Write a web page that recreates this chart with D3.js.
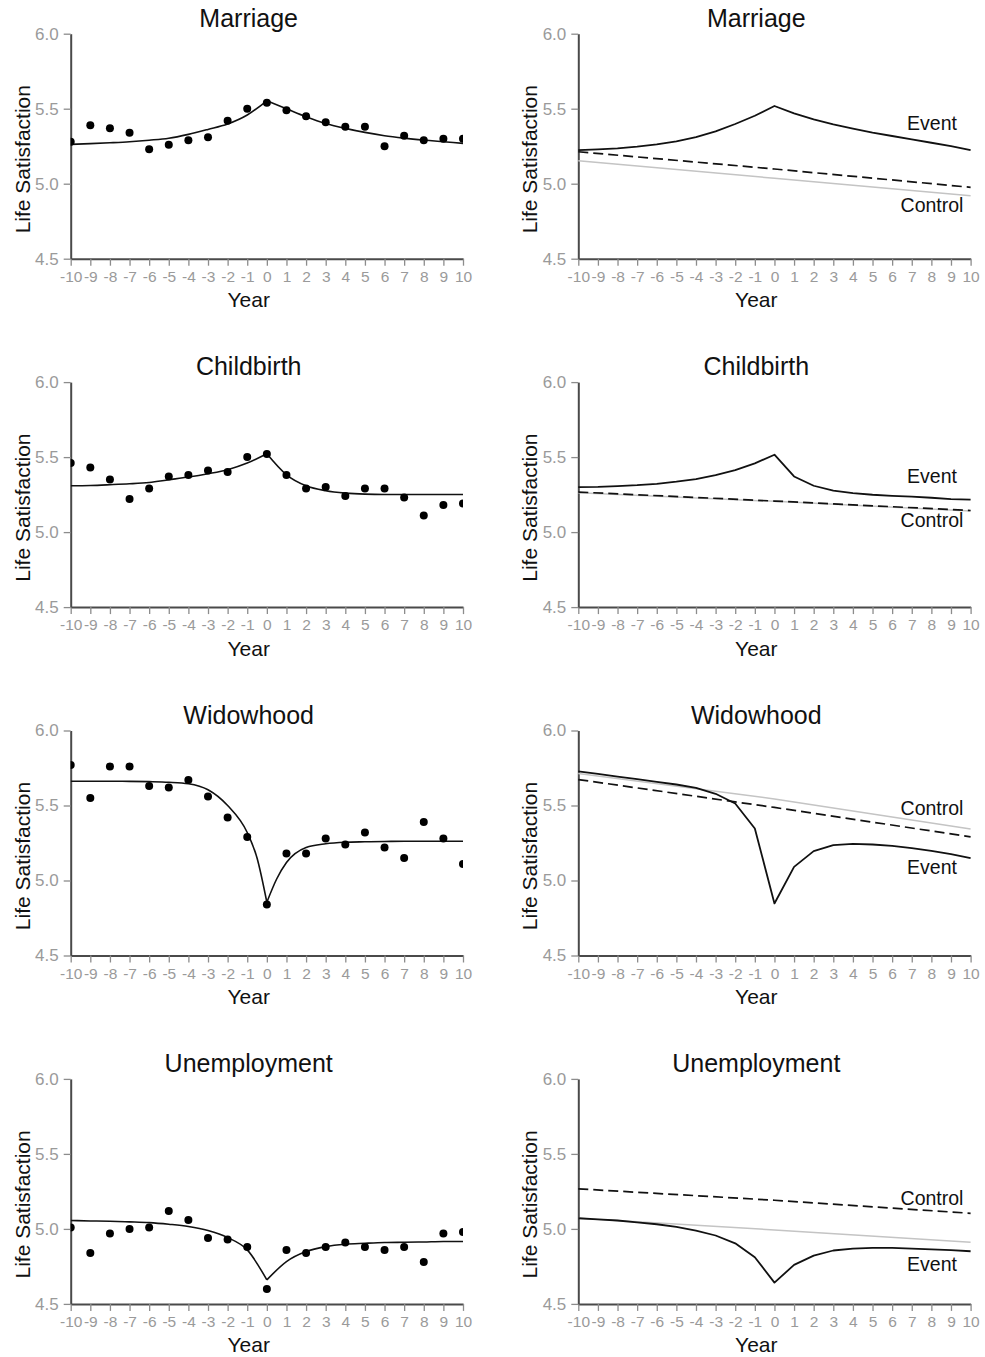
<!DOCTYPE html>
<html>
<head>
<meta charset="utf-8">
<script src="https://cdn.jsdelivr.net/npm/d3@7"></script>
<style>
  body { margin: 0; background: #fff; }
  svg text { font-family: "Liberation Sans", Arial, sans-serif; }
</style>
</head>
<body>
<div class="display"></div>
<script>
// Life satisfaction around major life events: raw means + fitted curve (left),
// event group vs control groups (right)

const WIDTH = 985;
const HEIGHT = 1357;

const COL_X = [70.7, 578.3]; // x of the y-axis for left / right column
const PLOT_W = 392.3;
const PLOT_H = 225;
const ROW_TOP = 33.7;
const ROW_STEP = 348.4;

const YEARS = d3.range(-10, 11);
const Y_TICKS = [4.5, 5.0, 5.5, 6.0];
const EVENTS = ['Marriage', 'Childbirth', 'Widowhood', 'Unemployment'];

// Left column: yearly means (dots)
const marriageDots = [5.28, 5.39, 5.37, 5.34, 5.23, 5.26, 5.29, 5.31, 5.42, 5.50, 5.54, 5.49, 5.45, 5.41, 5.38, 5.38, 5.25, 5.32, 5.29, 5.30, 5.30];
const childbirthDots = [5.46, 5.43, 5.35, 5.22, 5.29, 5.37, 5.38, 5.41, 5.40, 5.50, 5.52, 5.38, 5.29, 5.30, 5.24, 5.29, 5.29, 5.23, 5.11, 5.18, 5.19];
const widowhoodDots = [5.77, 5.55, 5.76, 5.76, 5.63, 5.62, 5.67, 5.56, 5.42, 5.29, 4.84, 5.18, 5.18, 5.28, 5.24, 5.32, 5.22, 5.15, 5.39, 5.28, 5.11];
const unemploymentDots = [5.01, 4.84, 4.97, 5.00, 5.01, 5.12, 5.06, 4.94, 4.93, 4.88, 4.60, 4.86, 4.84, 4.88, 4.91, 4.88, 4.86, 4.88, 4.78, 4.97, 4.98];

// Left column: fitted curves [year, value]
const marriageFit = [[-10, 5.262], [-9, 5.267], [-8, 5.273], [-7, 5.28], [-6, 5.29], [-5, 5.303], [-4, 5.329], [-3, 5.362], [-2, 5.398], [-1, 5.458], [0, 5.553],
  [1, 5.50], [2, 5.447], [3, 5.402], [4, 5.369], [5, 5.342], [6, 5.32], [7, 5.304], [8, 5.291], [9, 5.28], [10, 5.269]];
const childbirthFit = [[-10, 5.309], [-9, 5.311], [-8, 5.316], [-7, 5.322], [-6, 5.331], [-5, 5.349], [-4, 5.367], [-3, 5.389], [-2, 5.416], [-1, 5.46], [0, 5.522],
  [1, 5.382], [2, 5.309], [3, 5.276], [4, 5.26], [5, 5.253], [6, 5.251], [7, 5.251], [8, 5.251], [9, 5.251], [10, 5.251]];
const widowhoodFit = [[-10, 5.662], [-9, 5.662], [-8, 5.662], [-7, 5.661], [-6, 5.659], [-5, 5.655], [-4, 5.645], [-3, 5.605], [-2, 5.50], [-1, 5.32], [-0.5, 5.15], [0, 4.855],
  [0.5, 5.01], [1, 5.12], [2, 5.22], [3, 5.245], [4, 5.255], [5, 5.258], [6, 5.26], [7, 5.262], [8, 5.262], [9, 5.262], [10, 5.262]];
const unemploymentFit = [[-10, 5.056], [-9, 5.053], [-8, 5.051], [-7, 5.047], [-6, 5.042], [-5, 5.031], [-4, 5.016], [-3, 4.989], [-2, 4.942], [-1, 4.86], [0, 4.66],
  [1, 4.782], [2, 4.849], [3, 4.882], [4, 4.898], [5, 4.904], [6, 4.909], [7, 4.911], [8, 4.913], [9, 4.916], [10, 4.916]];

// Right column: event group trajectory (one value per year)
const marriageEvent = [5.224, 5.229, 5.236, 5.247, 5.262, 5.282, 5.311, 5.349, 5.398, 5.453, 5.518, 5.469, 5.429, 5.396, 5.367, 5.340, 5.318, 5.296, 5.273, 5.251, 5.224];
const childbirthEvent = [5.300, 5.302, 5.307, 5.313, 5.322, 5.336, 5.353, 5.380, 5.413, 5.458, 5.516, 5.371, 5.309, 5.276, 5.260, 5.249, 5.242, 5.236, 5.229, 5.220, 5.216];
const widowhoodEvent = [5.727, 5.711, 5.693, 5.676, 5.658, 5.640, 5.618, 5.578, 5.513, 5.347, 4.847, 5.091, 5.196, 5.236, 5.244, 5.240, 5.231, 5.216, 5.198, 5.176, 5.149];
const unemploymentEvent = [5.071, 5.064, 5.056, 5.044, 5.031, 5.013, 4.989, 4.956, 4.904, 4.811, 4.642, 4.760, 4.822, 4.856, 4.869, 4.873, 4.873, 4.869, 4.864, 4.858, 4.851];

// Right column: control lines, read at years -10, 0, 10
const CONTROL_YEARS = [-10, 0, 10];
const marriageDashed = [5.213, 5.098, 4.976];
const childbirthDashed = [5.267, 5.207, 5.144];
const widowhoodDashed = [5.673, 5.487, 5.291];
const unemploymentDashed = [5.267, 5.191, 5.104];
const marriageGray = [5.153, 5.036, 4.920];
const childbirthGray = [5.262, 5.205, 5.140];
const widowhoodGray = [5.713, 5.544, 5.344];
const unemploymentGray = [5.071, 4.993, 4.911];

// Where the "Event" / "Control" labels sit, in data units
const eventLabelY = [5.358, 5.329, 5.042, 4.722];
const controlLabelY = [4.811, 5.035, 5.435, 5.160];

const dotsByEvent = [marriageDots, childbirthDots, widowhoodDots, unemploymentDots];
const fitByEvent = [marriageFit, childbirthFit, widowhoodFit, unemploymentFit];
const eventByEvent = [marriageEvent, childbirthEvent, widowhoodEvent, unemploymentEvent];
const dashedByEvent = [marriageDashed, childbirthDashed, widowhoodDashed, unemploymentDashed];
const grayByEvent = [marriageGray, childbirthGray, widowhoodGray, unemploymentGray];

const svg = d3.select('.display')
  .append('svg')
  .attr('width', WIDTH)
  .attr('height', HEIGHT);

// Draw axes, title and axis labels for one panel, return its scales
function drawFrame(g, title) {
  const x = d3.scaleLinear().domain([-10, 10]).range([0, PLOT_W]);
  const y = d3.scaleLinear().domain([4.5, 6.0]).range([PLOT_H, 0]);

  const xAxis = g.append('g')
    .attr('transform', `translate(0, ${PLOT_H})`)
    .call(d3.axisBottom(x).tickValues(YEARS).tickSize(7).tickSizeOuter(0).tickPadding(5).tickFormat(d => String(d)));

  const yAxis = g.append('g')
    .call(d3.axisLeft(y).tickValues(Y_TICKS).tickSize(7).tickSizeOuter(0).tickPadding(5).tickFormat(d => d.toFixed(1)));

  [xAxis, yAxis].forEach(a => {
    a.select('.domain').attr('stroke', '#4a4a4a').attr('stroke-width', 2);
    a.selectAll('.tick line').attr('stroke', '#8c8c8c').attr('stroke-width', 1.3);
    a.selectAll('.tick text').attr('fill', '#9a9a9a').style('font-size', '15.5px');
  });
  yAxis.selectAll('.tick text').style('font-size', '17px');

  g.append('text')
    .attr('x', 178)
    .attr('y', -7)
    .attr('text-anchor', 'middle')
    .style('font-size', '25px')
    .attr('fill', '#111')
    .text(title);

  g.append('text')
    .attr('x', 178)
    .attr('y', PLOT_H + 48.5)
    .attr('text-anchor', 'middle')
    .style('font-size', '21px')
    .attr('fill', '#111')
    .text('Year');

  g.append('text')
    .attr('transform', `translate(-41, ${PLOT_H / 2 + 13}) rotate(-90)`)
    .attr('text-anchor', 'middle')
    .style('font-size', '21px')
    .attr('fill', '#111')
    .text('Life Satisfaction');

  return { x, y };
}

// Left column: raw means as dots + piecewise fitted curve (cusp at year 0)
function drawRawPanel(row) {
  const g = svg.append('g').attr('transform', `translate(${COL_X[0]}, ${ROW_TOP + row * ROW_STEP})`);
  const { x, y } = drawFrame(g, EVENTS[row]);

  const clipId = `clip-raw-${row}`;
  g.append('clipPath').attr('id', clipId)
    .append('rect').attr('width', PLOT_W).attr('height', PLOT_H);

  const plot = g.append('g').attr('clip-path', `url(#${clipId})`);

  const line = d3.line()
    .x(d => x(d[0]))
    .y(d => y(d[1]))
    .curve(d3.curveMonotoneX);

  const fit = fitByEvent[row];
  const segments = [fit.filter(d => d[0] <= 0), fit.filter(d => d[0] >= 0)];
  plot.selectAll('.fit')
    .data(segments)
    .enter()
    .append('path')
    .attr('class', 'fit')
    .attr('d', line)
    .attr('fill', 'none')
    .attr('stroke', '#111')
    .attr('stroke-width', 1.6);

  plot.selectAll('.dot')
    .data(dotsByEvent[row])
    .enter()
    .append('circle')
    .attr('class', 'dot')
    .attr('cx', (d, i) => x(YEARS[i]))
    .attr('cy', d => y(d))
    .attr('r', 4)
    .attr('fill', '#000');
}

// Right column: event trajectory vs two control lines
function drawComparePanel(row) {
  const g = svg.append('g').attr('transform', `translate(${COL_X[1]}, ${ROW_TOP + row * ROW_STEP})`);
  const { x, y } = drawFrame(g, EVENTS[row]);

  const line = d3.line()
    .x(d => x(d[0]))
    .y(d => y(d[1]));

  const gray = CONTROL_YEARS.map((yr, i) => [yr, grayByEvent[row][i]]);
  const dashed = CONTROL_YEARS.map((yr, i) => [yr, dashedByEvent[row][i]]);
  const event = YEARS.map((yr, i) => [yr, eventByEvent[row][i]]);

  g.append('path')
    .attr('d', line(gray))
    .attr('fill', 'none')
    .attr('stroke', '#c4c4c4')
    .attr('stroke-width', 1.5);

  g.append('path')
    .attr('d', line(dashed))
    .attr('fill', 'none')
    .attr('stroke', '#111')
    .attr('stroke-width', 1.7)
    .attr('stroke-dasharray', '10,5');

  g.append('path')
    .attr('d', line(event))
    .attr('fill', 'none')
    .attr('stroke', '#111')
    .attr('stroke-width', 1.8)
    .attr('stroke-linejoin', 'round');

  g.append('text')
    .attr('x', 353.7)
    .attr('y', y(eventLabelY[row]))
    .attr('text-anchor', 'middle')
    .style('font-size', '19.5px')
    .attr('fill', '#111')
    .text('Event');

  g.append('text')
    .attr('x', 353.7)
    .attr('y', y(controlLabelY[row]))
    .attr('text-anchor', 'middle')
    .style('font-size', '19.5px')
    .attr('fill', '#111')
    .text('Control');
}

EVENTS.forEach((e, row) => {
  drawRawPanel(row);
  drawComparePanel(row);
});
</script>
</body>
</html>
